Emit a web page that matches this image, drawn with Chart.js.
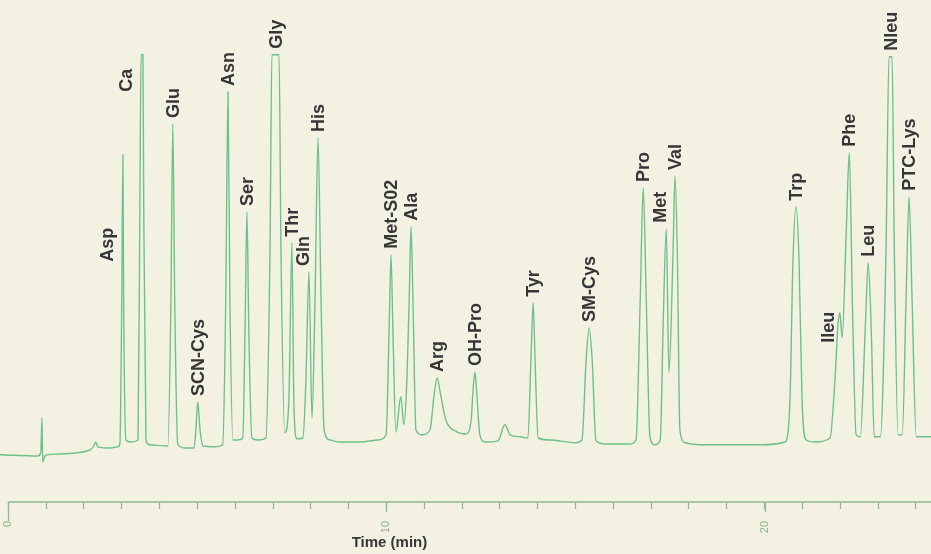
<!DOCTYPE html>
<html>
<head>
<meta charset="utf-8">
<title>Amino acid chromatogram</title>
<script src="https://cdn.jsdelivr.net/npm/chart.js@4/dist/chart.umd.min.js"></script>
<style>
  body { margin: 0; background: #f3f2e2; }
  #wrap { width: 931px; height: 554px; }
</style>
</head>
<body>
<div id="wrap"><canvas id="myChart" width="931" height="554"></canvas></div>
<script>
// detector trace (time in min, signal in arbitrary units)
var traceTime = [
    -0.22, 0.78, 0.86, 0.89, 0.91, 0.97, 1.04, 1.36, 2.16, 2.26, 2.31, 2.37, 2.69, 2.90,
    2.95, 3.00, 3.03, 3.05, 3.11, 3.24,
    3.43, 3.48, 3.51, 3.56, 3.58, 3.64, 3.74,
    4.22, 4.30, 4.35, 4.40, 4.48, 4.67,
    4.91, 4.96, 5.01, 5.07, 5.15, 5.46,
    5.67, 5.75, 5.81, 5.86, 5.94, 6.07,
    6.20, 6.26, 6.31, 6.36, 6.44, 6.60,
    6.81, 6.92, 6.97, 7.16, 7.21, 7.31,
    7.42, 7.50, 7.55, 7.63, 7.79,
    7.87, 7.95, 8.03,
    8.11, 8.19, 8.27, 8.35, 8.51, 8.77, 9.30, 9.78,
    9.99, 10.07, 10.12, 10.17, 10.25,
    10.38, 10.46,
    10.54, 10.60, 10.65, 10.70, 10.78, 10.94,
    11.15, 11.26, 11.34, 11.42, 11.57, 11.81, 12.10,
    12.24, 12.29, 12.34, 12.39, 12.47, 12.61, 12.95,
    13.13, 13.27, 13.53, 13.74,
    13.82, 13.88, 13.93, 14.01, 14.33, 14.99, 15.17,
    15.28, 15.36, 15.44, 15.54, 15.78, 16.44, 16.60,
    16.71, 16.79, 16.87, 16.97, 17.10, 17.24,
    17.32, 17.40, 17.47,
    17.58, 17.63, 17.69, 17.76, 17.90, 18.29, 19.88, 20.54,
    20.67, 20.75, 20.83, 20.91, 20.99, 21.10, 21.34, 21.73,
    21.86, 21.94, 21.99, 22.05,
    22.16, 22.24, 22.32, 22.42, 22.53,
    22.66, 22.74, 22.82, 22.90, 23.06,
    23.21, 23.29, 23.37, 23.43, 23.53, 23.64,
    23.74, 23.82, 23.90, 24.01, 24.40
];
var traceSignal = [
    1.3, 1.0, 2.0, 10.5, -0.5, 1.0, 1.3, 1.5, 2.5, 3.5, 4.5, 3.3, 3.0, 3.3,
    4.0, 40.0, 76.3, 40.0, 5.0, 4.5,
    5.0, 65.0, 101.3, 101.3, 65.0, 5.0, 3.8,
    3.5, 40.0, 84.0, 40.0, 4.0, 3.0,
    3.0, 7.5, 14.5, 7.5, 3.5, 3.3,
    3.8, 40.0, 92.0, 40.0, 5.0, 5.0,
    5.5, 32.5, 62.0, 32.5, 5.5, 5.0,
    5.5, 52.5, 101.3, 101.3, 52.5, 6.8,
    15.0, 54.3, 15.0, 5.3, 5.5,
    20.0, 47.0, 10.5,
    40.0, 80.5, 40.0, 7.5, 5.0, 4.5, 4.5, 5.0,
    6.3, 32.5, 51.3, 32.5, 7.0,
    15.8, 8.8,
    20.0, 40.0, 58.3, 40.0, 7.5, 6.3,
    7.5, 16.3, 20.5, 17.0, 10.0, 7.3, 6.5,
    10.0, 17.5, 22.0, 16.3, 6.3, 4.5, 4.8,
    8.8, 6.3, 5.8, 5.5,
    25.0, 39.3, 25.0, 5.5, 5.0, 4.3, 5.0,
    25.0, 33.0, 25.0, 4.8, 4.0, 4.0, 5.0,
    40.0, 68.0, 40.0, 5.5, 3.8, 5.0,
    35.0, 57.8, 21.8,
    52.5, 71.0, 52.5, 7.5, 4.3, 3.8, 3.8, 4.5,
    15.0, 50.0, 63.3, 50.0, 15.0, 5.0, 4.5, 5.5,
    20.0, 33.8, 36.8, 30.5,
    57.5, 76.8, 40.0, 6.3, 5.8,
    32.5, 49.3, 32.5, 5.8, 5.8,
    52.5, 100.8, 100.8, 52.5, 6.3, 6.3,
    40.0, 65.8, 40.0, 5.8, 5.8
];

// peak names and retention times (min)
var peakNames = ['Asp', 'Ca', 'Glu', 'SCN-Cys', 'Asn', 'Ser', 'Gly', 'Thr', 'Gln', 'His',
    'Met-S02', 'Ala', 'Arg', 'OH-Pro', 'Tyr', 'SM-Cys', 'Pro', 'Met', 'Val', 'Trp',
    'Ileu', 'Phe', 'Leu', 'Nleu', 'PTC-Lys'];
var peakTimes = [3.03, 3.53, 4.35, 5.01, 5.81, 6.31, 7.07, 7.50, 7.95, 8.19,
    10.12, 10.65, 11.34, 12.34, 13.88, 15.36, 16.79, 17.40, 17.63, 20.83,
    21.99, 22.24, 22.74, 23.33, 23.82];

// labelled ticks on the time axis
var tickLabels = [0, 10, 20];

var traceColor = '#6fc088';
var axisColor = '#93b897';
var textColor = '#363636';

// a few labels sit beside their peak instead of on top (px)
var labelShift = {
    'Asp': [-16, 113],
    'Ca': [-16, 43],
    'Gln': [-6, 0],
    'Met': [-6, 0],
    'Ileu': [-12, 36]
};

var points = traceTime.map(function (t, i) { return { x: t, y: traceSignal[i] }; });

var paperPlugin = {
    id: 'paper',
    beforeDraw: function (chart) {
        var c = chart.ctx;
        c.save();
        c.fillStyle = '#f3f2e2';
        c.fillRect(0, 0, chart.width, chart.height);
        c.restore();
    }
};

var labelPlugin = {
    id: 'peakLabels',
    afterDraw: function (chart) {
        var c = chart.ctx;
        var xs = chart.scales.x, ys = chart.scales.y;
        var area = chart.chartArea;

        // axis line starting at 0 and longer major ticks
        c.save();
        c.strokeStyle = axisColor;
        c.lineWidth = 1.3;
        c.beginPath();
        c.moveTo(xs.getPixelForValue(0), area.bottom);
        c.lineTo(area.right, area.bottom);
        tickLabels.forEach(function (v) {
            var px = Math.round(xs.getPixelForValue(v)) + 0.5;
            c.moveTo(px, area.bottom);
            c.lineTo(px, area.bottom + (v === 0 ? 19 : 10));
        });
        c.stroke();

        // axis title, under the 10 min tick
        c.fillStyle = textColor;
        c.font = 'bold 15px "Liberation Sans", Arial, sans-serif';
        c.textAlign = 'center';
        c.textBaseline = 'middle';
        c.fillText('Time (min)', xs.getPixelForValue(10) + 3, 543);

        // peak names, written upwards just above each peak
        c.font = 'bold 18px "Liberation Sans", Arial, sans-serif';
        c.textAlign = 'left';
        peakNames.forEach(function (name, i) {
            var top = -Infinity;
            traceTime.forEach(function (t, k) {
                if (Math.abs(t - peakTimes[i]) <= 0.1 && traceSignal[k] > top) top = traceSignal[k];
            });
            var shift = labelShift[name] || [0, 0];
            var px = xs.getPixelForValue(peakTimes[i]) + shift[0];
            var py = ys.getPixelForValue(top) - 6 + shift[1];
            c.save();
            c.translate(px, py);
            c.rotate(-Math.PI / 2);
            c.fillText(name, 0, 1);
            c.restore();
        });
        c.restore();
    }
};

function myLoadFunction() {
    const ctx = document.getElementById('myChart').getContext('2d');
    var myChartConfig = {
        type: 'line',
        data: {
            datasets: [{
                label: 'Signal',
                data: points,
                borderColor: traceColor,
                borderWidth: 1.4,
                pointRadius: 0,
                cubicInterpolationMode: 'monotone',
                fill: false
            }]
        },
        options: {
            responsive: false,
            animation: false,
            layout: { padding: 0 },
            plugins: {
                legend: { display: false },
                tooltip: { enabled: false }
            },
            scales: {
                x: {
                    type: 'linear',
                    min: -0.22,
                    max: 24.40,
                    border: { display: false },
                    grid: {
                        drawOnChartArea: false,
                        tickLength: 7,
                        tickColor: axisColor,
                        tickWidth: 1.3
                    },
                    ticks: {
                        stepSize: 1,
                        includeBounds: false,
                        autoSkip: false,
                        minRotation: 90,
                        maxRotation: 90,
                        padding: 12,
                        color: '#8fb08f',
                        font: { size: 11, family: '"Liberation Sans", Arial, sans-serif' },
                        callback: function (v) { return tickLabels.indexOf(v) >= 0 ? String(v) : ''; }
                    },
                    afterFit: function (s) {
                        s.height = 52;
                        s.paddingLeft = 0;
                        s.paddingRight = 0;
                    }
                },
                y: {
                    display: false,
                    min: -10.5,
                    max: 115
                }
            }
        },
        plugins: [paperPlugin, labelPlugin]
    };
    const myChart = new Chart(ctx, myChartConfig);
}

document.addEventListener('DOMContentLoaded', myLoadFunction);
</script>
</body>
</html>
